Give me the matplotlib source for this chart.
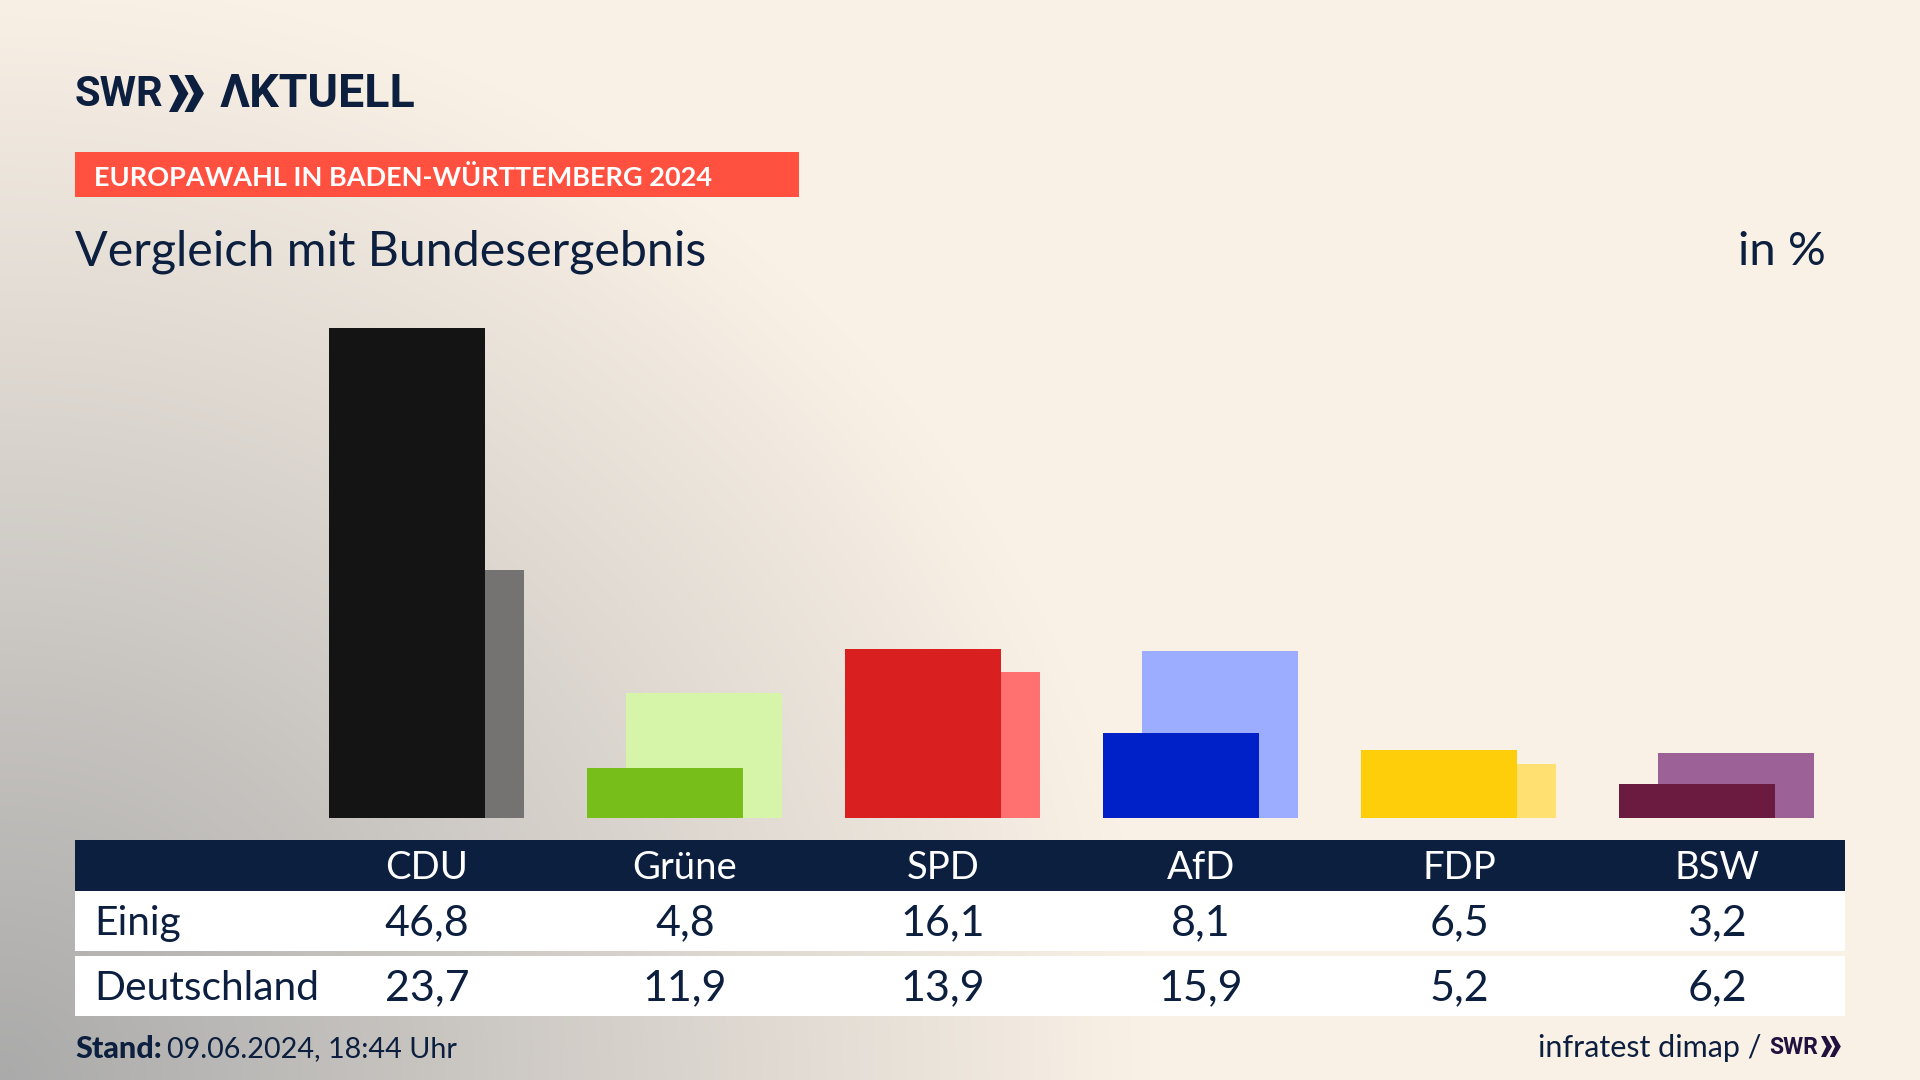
import numpy as np
import matplotlib
matplotlib.use('Agg')
import matplotlib.pyplot as plt
from matplotlib.patches import Rectangle, Polygon

FONT=['Lato','Noto Sans','DejaVu Sans']
LOGO_FONT=['Roboto','DejaVu Sans']
plt.rcParams['font.family']=FONT

PARTIES=['CDU','Grüne','SPD','AfD','FDP','BSW']
EINIG=[46.8,4.8,16.1,8.1,6.5,3.2]
DEUTSCHLAND=[23.7,11.9,13.9,15.9,5.2,6.2]
ROW_NAMES=['Einig','Deutschland']
EINIG_COLORS=['#141414','#78BE1A','#D91F1F','#0020C8','#FFCE0A','#6B1A40']
BUND_COLORS=['#757371','#D7F5A9','#FF7070','#9CADFF','#FFE070','#9C6298']

NAVY='#0C1F3F'
W,H=1920,1080

fig=plt.figure(figsize=(W/100,H/100),dpi=100)

# background
bg=fig.add_axes([0,0,1,1],zorder=0)
yy,xx=np.mgrid[0:H,0:W]
dist=np.sqrt((xx/1150.0)**2+((H-yy)/1100.0)**2)
t=np.clip(dist,0,1)[...,None]
cream=np.array([250,241,230])/255
grey=np.array([170,170,170])/255
bg.imshow(grey*(1-t)+cream*t,extent=(0,W,H,0),aspect='auto')
bg.set_xlim(0,W)
bg.set_ylim(H,0)
bg.axis('off')

# layout layer, in pixels
lay=fig.add_axes([0,0,1,1],zorder=1)
lay.set_xlim(0,W)
lay.set_ylim(H,0)
lay.axis('off')

def chevrons(x,y,h,color):
    w=h*0.42
    for k in range(2):
        x0=x+k*w*1.0
        lay.add_patch(Polygon([(x0,y),(x0+w*0.55,y),(x0+w*1.25,y+h/2),(x0+w*0.55,y+h),(x0,y+h),(x0+w*0.6,y+h/2)],
                              closed=True,fc=color,ec='none'))

lay.text(75,94,'SWR',fontsize=30,fontweight='bold',color=NAVY,va='center',ha='left',family=LOGO_FONT)
chevrons(169,75,37,NAVY)
lay.text(220,94,'ΛKTUELL',fontsize=33.5,fontweight='bold',color=NAVY,va='center',ha='left',family=LOGO_FONT)

lay.add_patch(Rectangle((75,152),724,45,fc='#FF5040',ec='none'))
lay.text(94,177,'EUROPAWAHL IN BADEN-WÜRTTEMBERG 2024',fontsize=19.5,fontweight='bold',color='white',va='center',ha='left')

lay.text(75,252,'Vergleich mit Bundesergebnis',fontsize=34.8,color=NAVY,va='center',ha='left')
lay.text(1826,252,'in %',fontsize=34,color=NAVY,va='center',ha='right')

# bars
BASE=818
PX_PER_UNIT=10.48
STEP=258.0
CENTER0=427.3
BAR_W=0.6055
ax=fig.add_axes([75/W,1-BASE/H,(1844-75)/W,518/H],zorder=2)
ax.patch.set_alpha(0)
ax.set_xlim((75-CENTER0)/STEP,(1844-CENTER0)/STEP)
ax.set_ylim(0,518/PX_PER_UNIT)
ax.axis('off')
x=np.arange(len(PARTIES))
ax.bar(x+0.0736,DEUTSCHLAND,width=BAR_W,color=BUND_COLORS,zorder=2)
ax.bar(x-0.0777,EINIG,width=BAR_W,color=EINIG_COLORS,zorder=3)

# table
lay.add_patch(Rectangle((75,840),1770,51,fc=NAVY,ec='none'))
lay.add_patch(Rectangle((75,891),1770,60,fc='white',ec='none'))
lay.add_patch(Rectangle((75,956),1770,60,fc='white',ec='none'))
ROW_Y=[923,988]
for i,party in enumerate(PARTIES):
    cx=427+i*STEP
    lay.text(cx,868,party,fontsize=27.5,color='white',va='center',ha='center')
    lay.text(cx,ROW_Y[0],format(EINIG[i],'.1f').replace('.',','),fontsize=31,color=NAVY,va='center',ha='center')
    lay.text(cx,ROW_Y[1],format(DEUTSCHLAND[i],'.1f').replace('.',','),fontsize=31,color=NAVY,va='center',ha='center')
for name,y in zip(ROW_NAMES,ROW_Y):
    lay.text(94,y,name,fontsize=29.3,color=NAVY,va='center',ha='left')

# footer
lay.text(75,1049,'Stand:',fontsize=22,fontweight='black',color=NAVY,va='center',ha='left')
lay.text(167,1049,'09.06.2024, 18:44 Uhr',fontsize=20.7,color=NAVY,va='center',ha='left')
lay.text(1761,1048,'infratest dimap /',fontsize=22,color=NAVY,va='center',ha='right')
lay.text(1769,1047,'SWR',fontsize=16.5,fontweight='bold',color='#22103F',va='center',ha='left',family=LOGO_FONT)
chevrons(1821,1036,21,'#22103F')

fig.savefig('out.png',dpi=100)
